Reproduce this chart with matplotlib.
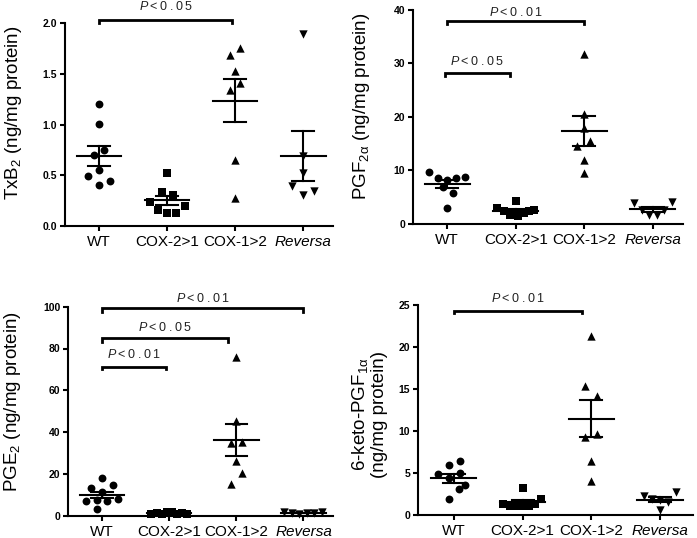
import numpy as np
import matplotlib.pyplot as plt
from matplotlib.ticker import FormatStrFormatter

plt.rcParams["font.family"] = ["Liberation Sans", "DejaVu Sans"]
plt.rcParams["mathtext.fontset"] = "custom"
plt.rcParams["mathtext.rm"] = "Liberation Sans"
plt.rcParams["mathtext.it"] = "Liberation Sans:italic"

GROUPS = ["WT", "COX-2>1", "COX-1>2", "Reversa"]
MARKERS = ["o", "s", "^", "v"]
MARKER_SIZES = [32, 28, 36, 36]

# TxB2 (ng/mg protein); *_dx = horizontal scatter offset of each point
txb2_wt = [1.20, 1.01, 0.70, 0.75, 0.55, 0.49, 0.44, 0.40]
txb2_wt_dx = [0, 0, -0.08, 0.08, 0, -0.16, 0.16, 0]
txb2_c21 = [0.52, 0.34, 0.31, 0.24, 0.20, 0.16, 0.125, 0.125]
txb2_c21_dx = [0, -0.07, 0.09, -0.25, 0.26, -0.13, 0, 0.13]
txb2_c12 = [1.76, 1.69, 1.53, 1.34, 1.415, 0.65, 0.28]
txb2_c12_dx = [0.08, -0.08, 0, -0.08, 0.08, 0, 0]
txb2_rev = [1.89, 0.69, 0.52, 0.395, 0.31, 0.35]
txb2_rev_dx = [0, 0, 0, -0.16, 0, 0.16]

# PGF2a
pgf_wt = [9.77, 8.65, 8.2, 8.65, 8.83, 6.85, 5.85, 2.93]
pgf_wt_dx = [-0.26, -0.13, 0, 0.13, 0.26, -0.06, 0.08, 0]
pgf_c21 = [4.2, 3.0, 2.5, 1.6, 1.4, 2.0, 2.4, 2.7]
pgf_c21_dx = [0, -0.27, -0.17, -0.08, 0.03, 0.12, 0.2, 0.27]
pgf_c12 = [31.7, 20.5, 17.85, 14.6, 15.4, 11.95, 9.6]
pgf_c12_dx = [0, 0, 0, -0.1, 0.085, 0, 0]
pgf_rev = [3.9, 2.6, 1.6, 1.7, 2.6, 4.1]
pgf_rev_dx = [-0.28, -0.16, -0.05, 0.06, 0.17, 0.28]

# PGE2
pge_wt = [17.9, 13.1, 14.7, 11.5, 7.2, 7.5, 7.2, 7.85, 3.2]
pge_wt_dx = [0, -0.16, 0.155, 0, -0.245, -0.085, 0.075, 0.24, -0.085]
pge_c21 = [0.9, 1.3, 0.7, 1.6, 1.9, 1.0, 1.4, 0.8]
pge_c21_dx = [-0.27, -0.19, -0.11, -0.04, 0.04, 0.11, 0.19, 0.27]
pge_c12 = [76.1, 45.5, 34.6, 35.3, 26.3, 20.3, 15.0]
pge_c12_dx = [0, 0, -0.085, 0.08, 0, 0.08, -0.085]
pge_rev = [1.6, 1.2, 1.0, 1.1, 1.3, 1.9]
pge_rev_dx = [-0.29, -0.17, -0.06, 0.05, 0.16, 0.27]

# 6-keto-PGF1a
keto_wt = [5.95, 6.43, 4.84, 4.44, 4.96, 3.57, 3.06, 1.87]
keto_wt_dx = [-0.07, 0.09, -0.23, -0.07, 0.09, 0.16, 0.08, -0.07]
keto_c21 = [3.25, 1.9, 1.31, 1.1, 1.1, 1.1, 1.1, 1.31]
keto_c21_dx = [0, 0.275, -0.28, -0.18, -0.09, 0, 0.1, 0.18]
keto_c12 = [21.35, 15.3, 14.2, 9.3, 9.6, 6.46, 4.08]
keto_c12_dx = [0, -0.09, 0.08, -0.09, 0.08, 0, 0]
keto_rev = [2.3, 2.7, 1.9, 1.8, 1.5, 0.6]
keto_rev_dx = [-0.24, 0.23, -0.12, 0, 0.12, 0]

# significance brackets: (group a, group b, bar y, tick end y, label, label y)
txb2_sig = [(1, 2.96, 2.03, 2.0, "P<0.05", 2.17)]
pgf_sig = [(1, 3, 37.95, 37.3, "P<0.01", 39.4), (0.96, 1.92, 28.1, 27.6, "P<0.05", 30.3)]
pge_sig = [(1, 4, 99.5, 97.6, "P<0.01", 104), (1, 2.88, 84.9, 83.2, "P<0.05", 90),
           (1, 1.95, 71.3, 70.0, "P<0.01", 76.9)]
keto_sig = [(1, 2.86, 24.3, 24.0, "P<0.01", 25.8)]

W, H = 697, 538
fig = plt.figure(figsize=(W / 100, H / 100), dpi=100)


def px_rect(left, right, y_bottom, y_top):
    return [left / W, 1 - y_bottom / H, (right - left) / W, (y_bottom - y_top) / H]


def panel(rect, groups, ylim, yticks, fmt, sig, xlim=(0.5, 4.44)):
    ax = fig.add_axes(rect)
    for i, (vals, dx) in enumerate(groups):
        vals = np.array(vals)
        x = i + 1 + np.array(dx)
        ax.scatter(x, vals, marker=MARKERS[i], s=MARKER_SIZES[i], color="black",
                   linewidths=0, zorder=3, clip_on=False)
        m = vals.mean()
        sem = vals.std(ddof=1) / np.sqrt(len(vals))
        ax.plot([i + 1 - 0.33, i + 1 + 0.33], [m, m], color="black", lw=1.5, zorder=4)
        ax.plot([i + 1, i + 1], [m - sem, m + sem], color="black", lw=1.5, zorder=4)
        for yy in (m - sem, m + sem):
            ax.plot([i + 1 - 0.16, i + 1 + 0.16], [yy, yy], color="black", lw=1.5, zorder=4)
    for a, b, y, y2, label, ty in sig:
        ax.plot([a, a, b, b], [y2, y, y, y2], color="black", lw=2, clip_on=False,
                solid_joinstyle="miter")
        # spread the characters a little, like the original's tracking
        ax.text((a + b) / 2, ty, r"$\mathit{P}$" + "\u2009" + "\u2009".join(label[1:]),
                ha="center", va="center", fontsize=9, color="#222222", clip_on=False)
    ax.set_xlim(*xlim)
    ax.set_ylim(*ylim)
    ax.set_yticks(yticks)
    ax.yaxis.set_major_formatter(FormatStrFormatter(fmt))
    ax.set_xticks([1, 2, 3, 4])
    ax.set_xticklabels(GROUPS, fontsize=11)
    ax.get_xticklabels()[3].set_style("italic")
    for lab in ax.get_yticklabels():
        lab.set_fontweight("bold")
        lab.set_fontsize(7.5)
    for s in ("top", "right"):
        ax.spines[s].set_visible(False)
    for s in ("left", "bottom"):
        ax.spines[s].set_linewidth(1.5)
    ax.tick_params(direction="out", length=3.5, width=1.5, pad=2)
    ax.tick_params(axis="x", pad=3)
    return ax


panel(px_rect(65, 333, 226, 23.3),
      [(txb2_wt, txb2_wt_dx), (txb2_c21, txb2_c21_dx), (txb2_c12, txb2_c12_dx), (txb2_rev, txb2_rev_dx)],
      (0, 2.0), [0, 0.5, 1.0, 1.5, 2.0], "%.1f", txb2_sig)
panel(px_rect(413, 683, 224, 9.7),
      [(pgf_wt, pgf_wt_dx), (pgf_c21, pgf_c21_dx), (pgf_c12, pgf_c12_dx), (pgf_rev, pgf_rev_dx)],
      (0, 40), [0, 10, 20, 30, 40], "%d", pgf_sig)
panel(px_rect(68, 333, 515.7, 306.7),
      [(pge_wt, pge_wt_dx), (pge_c21, pge_c21_dx), (pge_c12, pge_c12_dx), (pge_rev, pge_rev_dx)],
      (0, 100), [0, 20, 40, 60, 80, 100], "%d", pge_sig, xlim=(0.49, 4.44))
panel(px_rect(418, 693, 515, 305),
      [(keto_wt, keto_wt_dx), (keto_c21, keto_c21_dx), (keto_c12, keto_c12_dx), (keto_rev, keto_rev_dx)],
      (0, 25), [0, 5, 10, 15, 20, 25], "%d", keto_sig, xlim=(0.48, 4.48))

ylab = dict(rotation=90, ha="center", va="center", fontsize=13.5)
fig.text(14 / W, 1 - 112.5 / H, r"TxB$_2$ (ng/mg protein)", **ylab)
fig.text(362 / W, 1 - 106 / H, r"PGF$_{2\mathrm{α}}$ (ng/mg protein)", **ylab)
fig.text(13 / W, 1 - 402 / H, r"PGE$_2$ (ng/mg protein)", **ylab)
fig.text(369 / W, 1 - 414 / H, "6-keto-PGF$_{1\\mathrm{α}}$\n(ng/mg protein)",
         multialignment="center", linespacing=1.15, **ylab)

fig.savefig("out.png", dpi=100)
